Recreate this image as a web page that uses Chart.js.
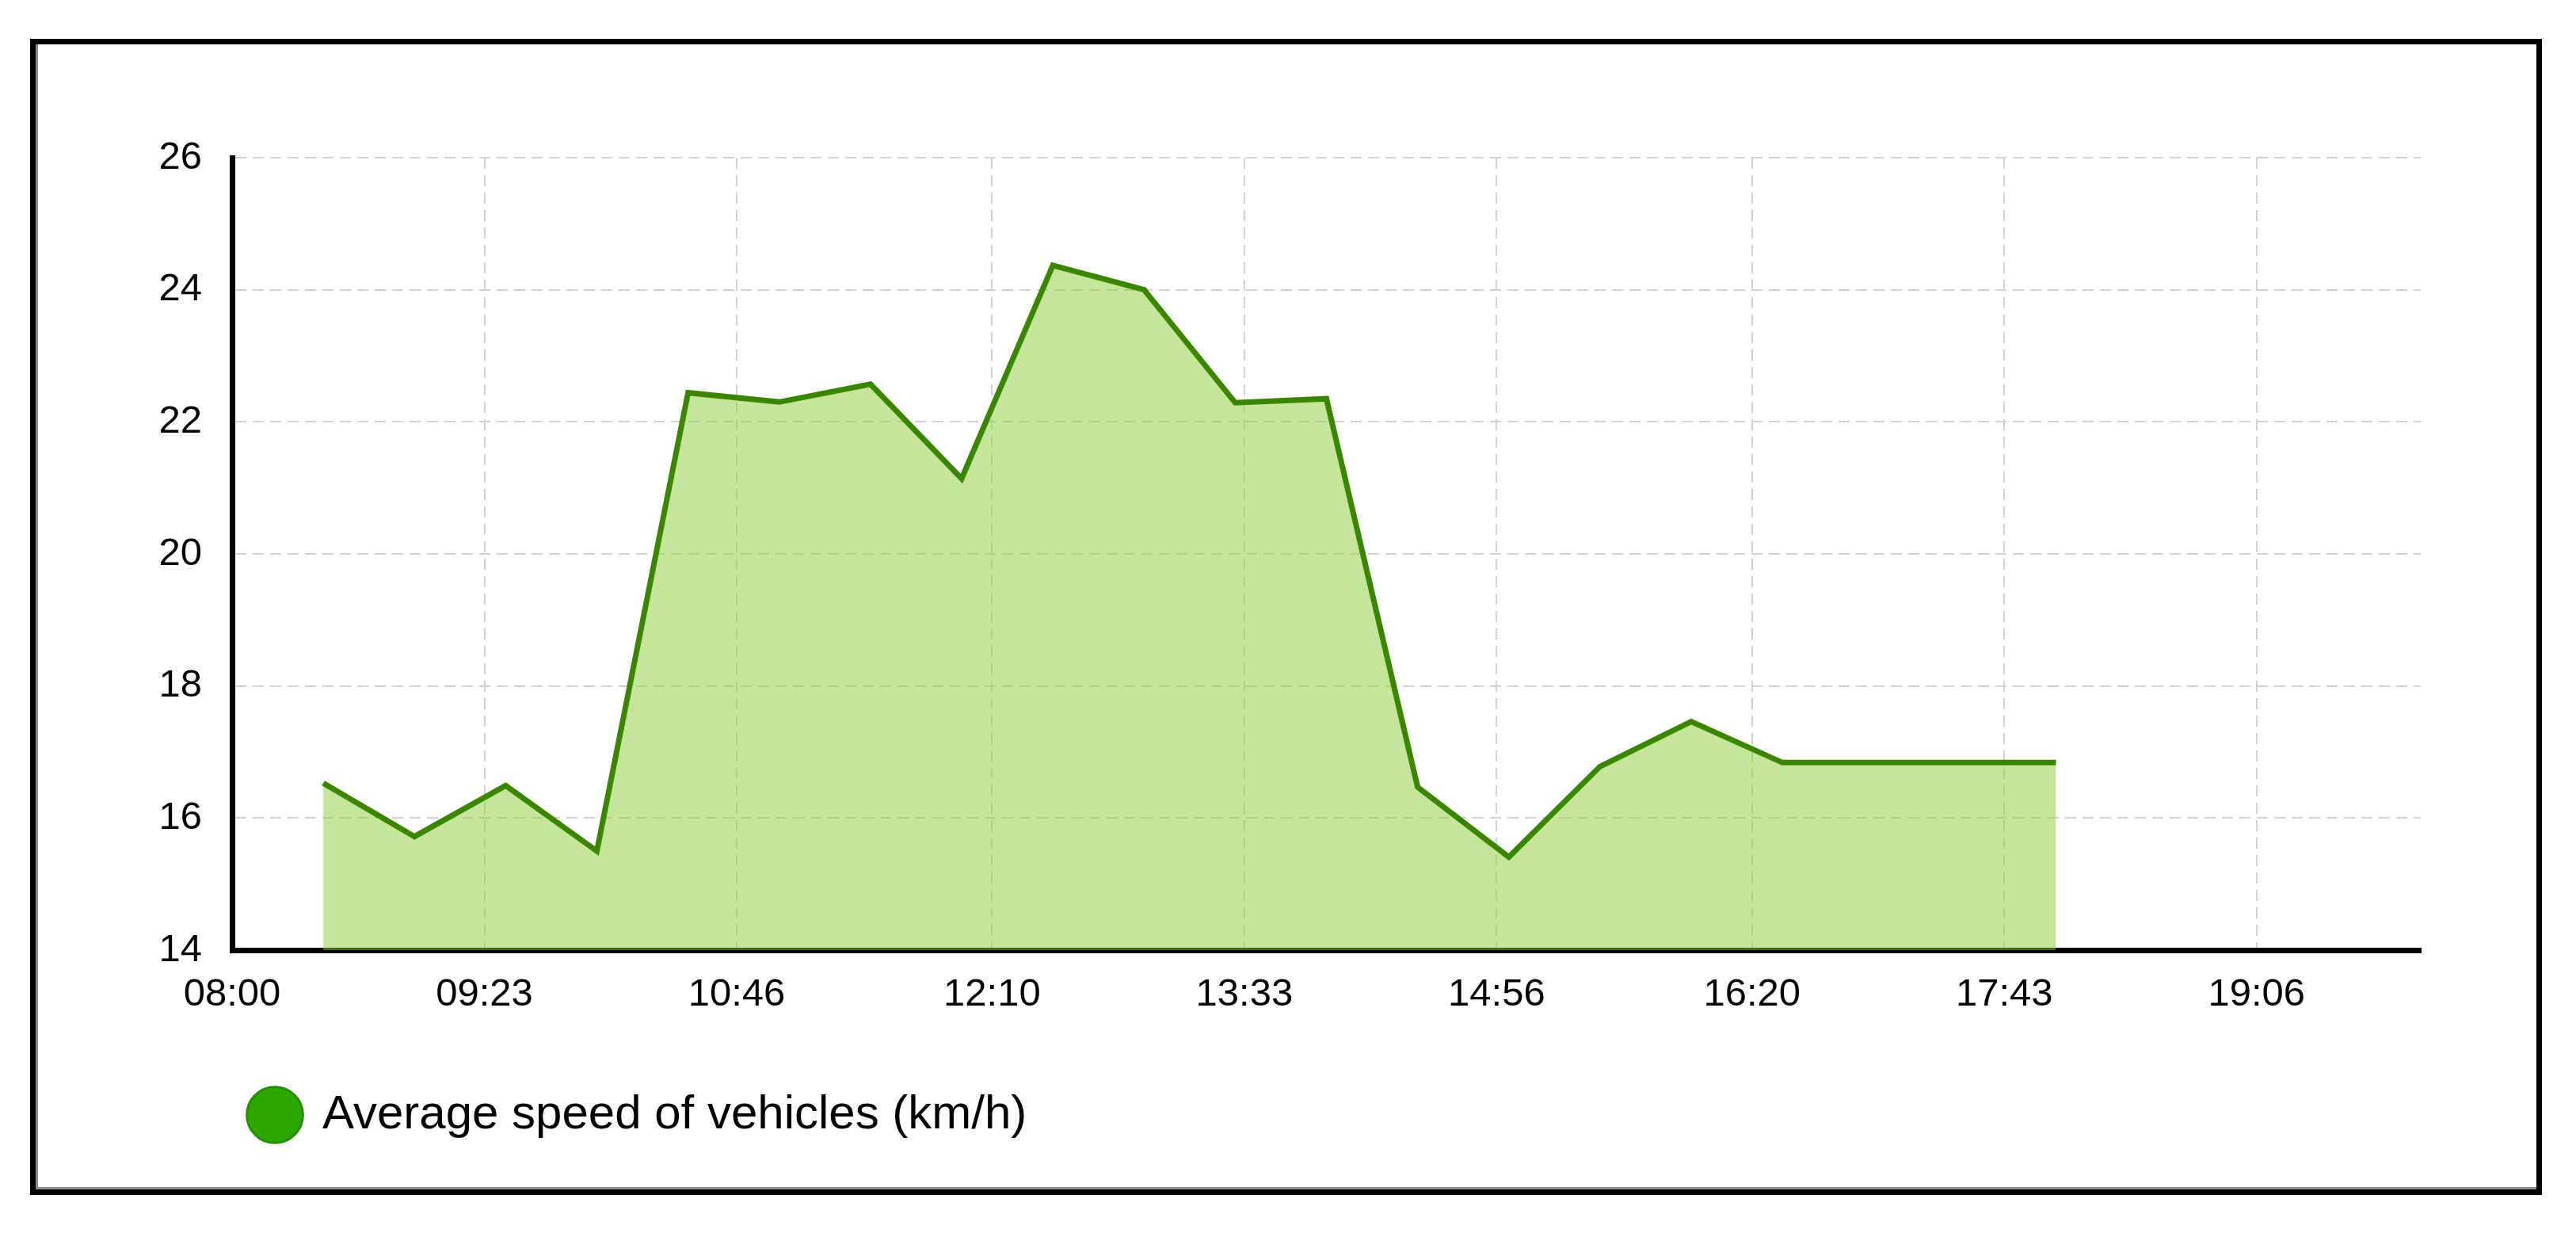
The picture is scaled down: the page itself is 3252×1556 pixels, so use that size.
<!DOCTYPE html>
<html>
<head>
<meta charset="utf-8">
<title>Average speed of vehicles</title>
<script src="https://cdn.jsdelivr.net/npm/chart.js@4/dist/chart.umd.min.js"></script>
<style>
    html, body { margin: 0; padding: 0; background: #fff; }
    #wrap { position: relative; width: 3252px; height: 1556px; }
    #speedChart { position: absolute; left: 0; top: 0; }
    #frame {
        position: absolute; left: 38px; top: 49px; width: 3171px; height: 1459px;
        box-sizing: border-box; border: 7px solid #000;
        box-shadow: inset 3px -3px 0 #8a8a8a;
        pointer-events: none;
    }
</style>
</head>
<body>
<div id="wrap">
    <canvas id="speedChart" width="3252" height="1556"></canvas>
    <div id="frame"></div>
</div>
<script>
// measurement times (every half hour) and average speed in km/h
var times = ['08:30', '09:00', '09:30', '10:00', '10:30', '11:00', '11:30', '12:00', '12:30', '13:00',
             '13:30', '14:00', '14:30', '15:00', '15:30', '16:00', '16:30', '17:00', '17:30', '18:00'];
var speeds = [16.53, 15.72, 16.49, 15.50, 22.44, 22.30, 22.57, 21.14, 24.37, 24.00,
              22.29, 22.35, 16.47, 15.41, 16.78, 17.46, 16.84, 16.84, 16.84, 16.84];
var xTickLabels = ['08:00', '09:23', '10:46', '12:10', '13:33', '14:56', '16:20', '17:43', '19:06'];
var yTicks = [14, 16, 18, 20, 22, 24, 26];
var seriesLabel = 'Average speed of vehicles (km/h)';

function toMinutes(t) {
    var parts = t.split(':');
    return parseInt(parts[0], 10) * 60 + parseInt(parts[1], 10);
}

function formatTime(m) {
    var h = Math.floor(m / 60);
    var mm = Math.round(m - h * 60);
    return ('0' + h).slice(-2) + ':' + ('0' + mm).slice(-2);
}

var points = times.map(function(t, i) {
    return { x: toMinutes(t), y: speeds[i] };
});

var font = { family: "'Liberation Sans', Arial, sans-serif", size: 49 };
var gridColor = '#d2d2d2';

var ctx = document.getElementById('speedChart').getContext('2d');
new Chart(ctx, {
    type: 'line',
    data: {
        datasets: [{
            label: seriesLabel,
            data: points,
            borderColor: '#3a8600',
            borderWidth: 7,
            backgroundColor: 'rgba(137, 206, 55, 0.5)',
            fill: 'start',
            tension: 0,
            pointRadius: 0,
            pointHoverRadius: 0
        }]
    },
    options: {
        responsive: false,
        animation: false,
        devicePixelRatio: 1,
        layout: {
            padding: { left: 0, top: 199, right: 196, bottom: 109 }
        },
        scales: {
            x: {
                type: 'linear',
                min: toMinutes('08:00'),
                max: toMinutes('20:00'),
                afterBuildTicks: function(scale) {
                    scale.ticks = xTickLabels.map(function(l) { return { value: toMinutes(l) }; });
                },
                afterFit: function(scale) {
                    scale.height = 154;
                },
                ticks: {
                    font: font,
                    color: '#000',
                    padding: 27,
                    maxRotation: 0,
                    autoSkip: false,
                    callback: function(value) { return formatTime(value); }
                },
                grid: {
                    color: gridColor,
                    lineWidth: 2,
                    drawTicks: false
                },
                border: {
                    display: true,
                    color: '#000',
                    width: 7,
                    dash: [14, 8]
                }
            },
            y: {
                min: yTicks[0],
                max: yTicks[yTicks.length - 1],
                afterBuildTicks: function(scale) {
                    scale.ticks = yTicks.map(function(v) { return { value: v }; });
                },
                afterFit: function(scale) {
                    scale.width = 293;
                },
                ticks: {
                    font: font,
                    color: '#000',
                    padding: 38
                },
                grid: {
                    color: gridColor,
                    lineWidth: 2,
                    drawTicks: false
                },
                border: {
                    display: true,
                    color: '#000',
                    width: 7,
                    dash: [14, 8]
                }
            }
        },
        plugins: {
            tooltip: { enabled: false },
            legend: {
                position: 'bottom',
                align: 'start',
                fullSize: false,
                labels: {
                    usePointStyle: true,
                    pointStyle: 'circle',
                    boxWidth: 60,
                    boxHeight: 50,
                    padding: 24,
                    color: '#000',
                    font: { family: "'Liberation Sans', Arial, sans-serif", size: 60 },
                    generateLabels: function(chart) {
                        return [{
                            text: seriesLabel,
                            fillStyle: '#2ca600',
                            strokeStyle: '#238f00',
                            lineWidth: 3,
                            pointStyle: 'circle',
                            hidden: false,
                            datasetIndex: 0
                        }];
                    }
                }
            }
        }
    }
});
</script>
</body>
</html>
